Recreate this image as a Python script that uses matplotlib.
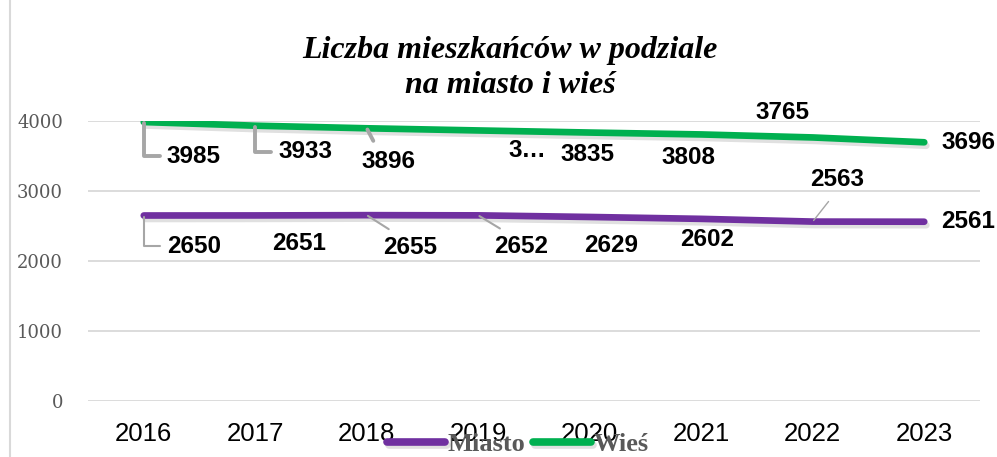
import matplotlib.pyplot as plt
from matplotlib.lines import Line2D
import matplotlib.patheffects as pe

# Daten
lata = ['2016', '2017', '2018', '2019', '2020', '2021', '2022', '2023']
miasto = [2650, 2651, 2655, 2652, 2629, 2602, 2563, 2561]
wies = [3985, 3933, 3896, 3865, 3835, 3808, 3765, 3696]
etykiety_miasto = ['2650', '2651', '2655', '2652', '2629', '2602', '2563', '2561']
etykiety_wies = ['3985', '3933', '3896', '3…', '3835', '3808', '3765', '3696']

# Przesunięcia etykiet (piksele) i linie odniesienia
off_wies = [(50, -34), (50, -26), (22, -33), (49, -20), (-2, -22), (-13, -23), (-30, 25), (44, 0)]
off_miasto = [(50, -31), (44, -28), (43, -32), (43, -31), (21, -29), (6, -21), (24, 42), (44, 0)]
lider_wies = ['bracket', 'bracket', 'diag', None, None, None, None, None]
lider_miasto = ['bracket', None, 'diag', 'diag', None, None, 'diag_up', None]

fiolet = '#7030A0'
ziel = '#00B050'
szary = '#595959'

fig = plt.figure(figsize=(9.97, 4.57), dpi=100)
ax = fig.add_axes([88 / 997, 1 - 401 / 457, (980 - 88) / 997, (401 - 121) / 457])

x = list(range(len(lata)))
cien = [pe.SimpleLineShadow(offset=(1.5, -2.5), shadow_color='k', alpha=0.12), pe.Normal()]
ax.plot(x, miasto, color=fiolet, lw=4.8, solid_capstyle='round', label='Miasto', path_effects=cien, zorder=3)
ax.plot(x, wies, color=ziel, lw=4.8, solid_capstyle='round', label='Wieś', path_effects=cien, zorder=3)

ax.set_xlim(-0.5, len(lata) - 0.5)
ax.set_ylim(0, 4000)
ax.set_yticks([0, 1000, 2000, 3000, 4000])
ax.set_xticks(x)
ax.set_xticklabels(lata, fontfamily='Liberation Sans', fontsize=18.5, color='black')
for t in ax.get_yticklabels():
    t.set_fontfamily('DejaVu Serif')
    t.set_fontsize(13)
    t.set_color(szary)
ax.tick_params(axis='both', length=0)
ax.tick_params(axis='y', pad=18)
ax.tick_params(axis='x', pad=15)
ax.grid(axis='y', color='#d9d9d9', lw=1.3)
ax.set_axisbelow(True)
for s in ax.spines.values():
    s.set_visible(False)


def etykiety(wartosci, teksty, przes, lidery, lw_lidera):
    for i, (v, t, o, l) in enumerate(zip(wartosci, teksty, przes, lidery)):
        props = None
        if l == 'bracket':
            props = dict(arrowstyle='-', color='#a6a6a6', lw=lw_lidera, relpos=(0, 0.5),
                         connectionstyle='angle,angleA=0,angleB=90,rad=0', shrinkA=3, shrinkB=1)
        elif l == 'diag':
            props = dict(arrowstyle='-', color='#a6a6a6', lw=lw_lidera, relpos=(0.3, 1),
                         shrinkA=5, shrinkB=1)
        elif l == 'diag_up':
            props = dict(arrowstyle='-', color='#a6a6a6', lw=1.0, relpos=(0.5, 0),
                         shrinkA=7, shrinkB=1)
        ax.annotate(t, xy=(i, v), xytext=o, textcoords='offset pixels', ha='center', va='center',
                    fontsize=17.5, fontweight='bold', fontfamily='Liberation Sans', color='black',
                    arrowprops=props, zorder=4, annotation_clip=False)


etykiety(wies, etykiety_wies, off_wies, lider_wies, 2.8)
etykiety(miasto, etykiety_miasto, off_miasto, lider_miasto, 1.5)

fig.text(510 / 997, 1 - 68 / 457, 'Liczba mieszkańców w podziale\nna miasto i wieś', ha='center', va='center',
         fontsize=23, fontweight='bold', fontstyle='italic', fontfamily='Liberation Serif',
         linespacing=1.3)

fig.legend(loc='center', bbox_to_anchor=(518 / 997, 1 - 444 / 457), ncol=2, frameon=False,
           prop=dict(family='Liberation Serif', weight='bold', size=19), labelcolor=szary,
           handlelength=2.2, handletextpad=0.1, columnspacing=0.3, borderpad=0)
for h in fig.legends[0].get_lines():
    h.set_linewidth(5.5)

fig.add_artist(Line2D([10 / 997, 10 / 997], [0, 1], color='#d9d9d9', lw=1.5, transform=fig.transFigure))

plt.savefig('out.png', dpi=100)
